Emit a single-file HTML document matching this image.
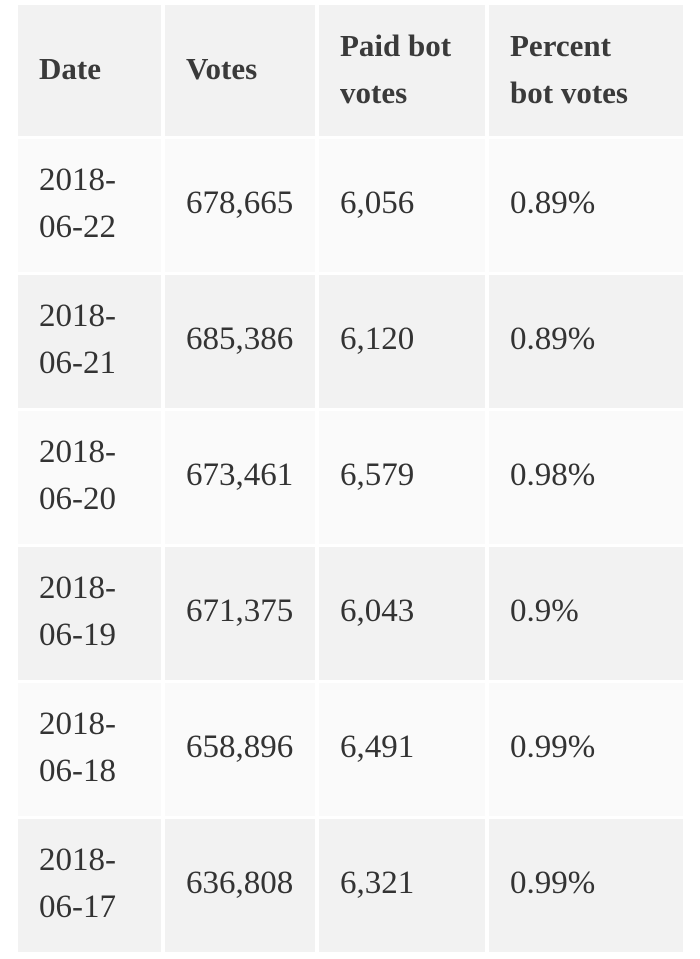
<!DOCTYPE html>
<html><head><meta charset="utf-8"><style>
body{margin:0;width:700px;height:959px;background:#fff;position:relative;overflow:hidden;font-family:"Liberation Serif",serif;color:#333;}
.c{position:absolute;display:flex;align-items:center;box-sizing:border-box;padding-left:21px;padding-bottom:4px;font-size:33px;line-height:47px;}
.h{background:#f2f2f2;font-weight:bold;color:#3a3a3a;font-size:31px;}
.o{background:#fafafa;}.e{background:#f2f2f2;}
</style></head><body>
<div id="t"></div>
<script>
const dates=["2018-<br>06-22","2018-<br>06-21","2018-<br>06-20","2018-<br>06-19","2018-<br>06-18","2018-<br>06-17"];
const votes=["678,665","685,386","673,461","671,375","658,896","636,808"];
const bot=["6,056","6,120","6,579","6,043","6,491","6,321"];
const pct=["0.89%","0.89%","0.98%","0.9%","0.99%","0.99%"];
const headers=["Date","Votes","Paid bot<br>votes","Percent<br>bot votes"];
const cx=[18,165,319,489],cw=[143,150,166,194];
const t=document.getElementById('t');
function cell(x,y,w,h,html,cls,name){
 const d=document.createElement('div');d.className='c '+cls;
 d.style.left=x+'px';d.style.top=y+'px';d.style.width=w+'px';d.style.height=h+'px';
 d.innerHTML='<div>'+html+'</div>';
 
 
 t.appendChild(d);
}
headers.forEach((h,i)=>cell(cx[i],5,cw[i],131,h,'h','header-cell'));
for(let r=0;r<6;r++){
 const y=139+r*136,cls=r%2?'e':'o';
 [dates[r],votes[r],bot[r],pct[r]].forEach((v,i)=>cell(cx[i],y,cw[i],133,v,cls,'table-cell'));
}
</script>
</body></html>
